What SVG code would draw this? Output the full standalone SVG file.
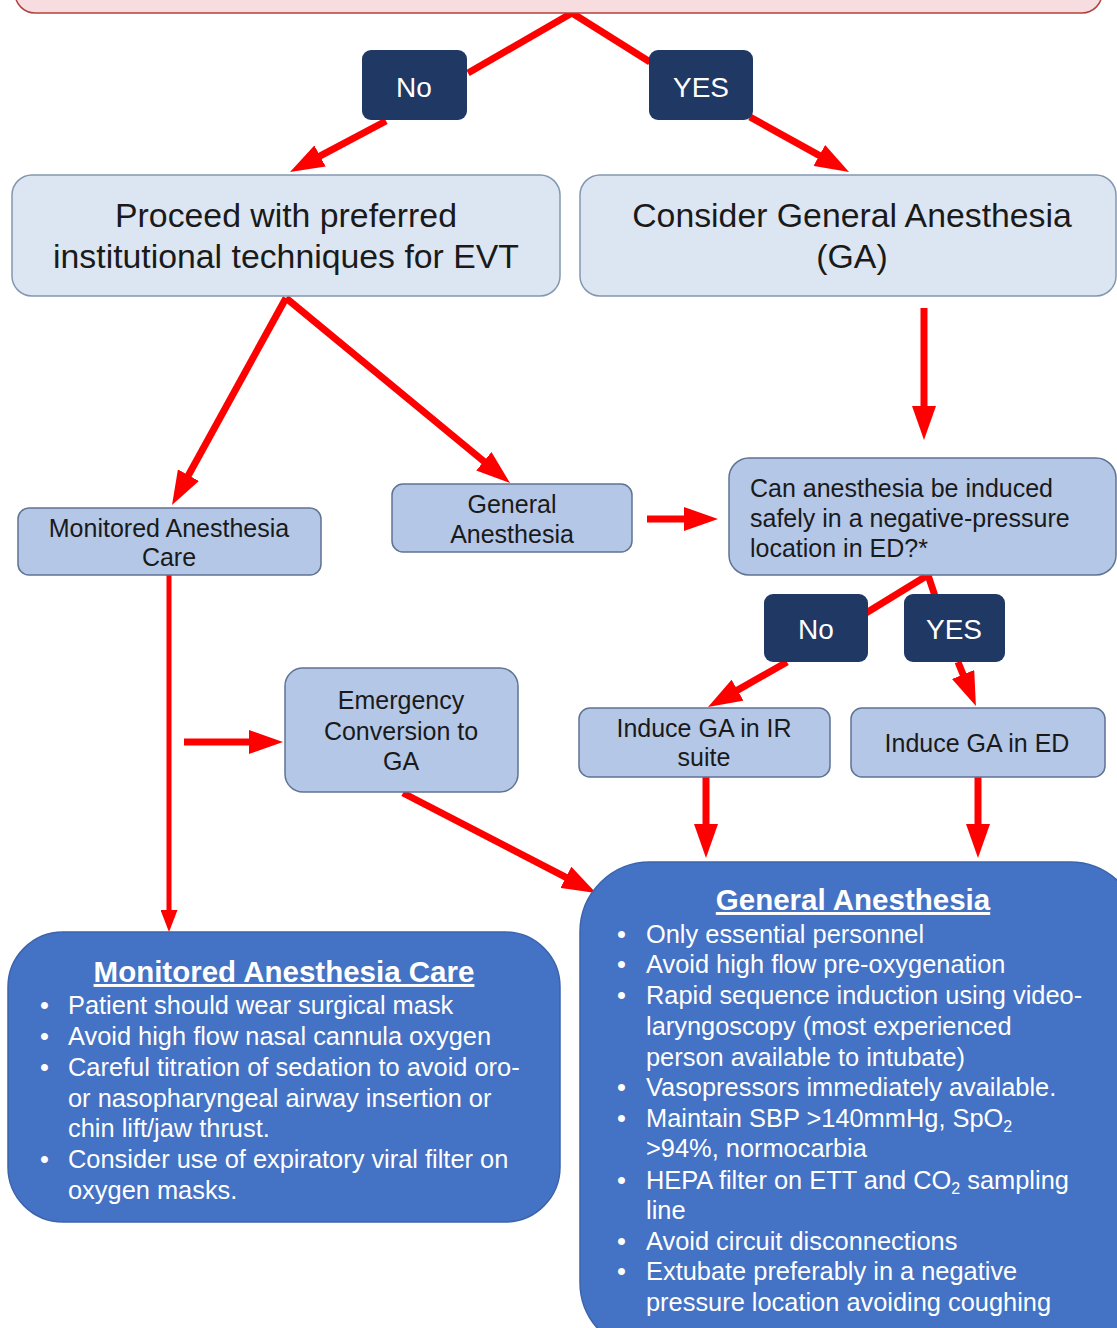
<svg xmlns="http://www.w3.org/2000/svg" width="1117" height="1328" viewBox="0 0 1117 1328">
<defs>
<style>
.t{font-family:"Liberation Sans",Arial,sans-serif;fill:#1a1a1a;}
.big{font-size:33.8px;}
.sm{font-size:25px;}
.lab{font-family:"Liberation Sans",Arial,sans-serif;fill:#ffffff;font-size:28px;}
.w{font-family:"Liberation Sans",Arial,sans-serif;fill:#ffffff;font-size:25.4px;}
.ttl{font-weight:bold;font-size:29.5px;text-decoration:underline;}
.pale{fill:#dce6f2;stroke:#8497b0;stroke-width:1.5;}
.mid{fill:#b4c7e7;stroke:#5f7394;stroke-width:1.5;}
.navy{fill:#1f3864;}
.blue{fill:#4472c4;stroke:#3c64ad;stroke-width:1.5;}
.c{fill:none;stroke:#ff0000;stroke-width:7;}
.a{marker-end:url(#ah);}
</style>
<marker id="ah" markerUnits="userSpaceOnUse" markerWidth="34" markerHeight="24" refX="4" refY="12" orient="auto">
<path d="M0,0 L34,12 L0,24 z" fill="#ff0000"/>
</marker>
<marker id="ahs" markerUnits="userSpaceOnUse" markerWidth="22" markerHeight="17" refX="3" refY="8.5" orient="auto">
<path d="M0,0 L22,8.5 L0,17 z" fill="#ff0000"/>
</marker>
</defs>
<rect width="1117" height="1328" fill="#ffffff"/>

<g id="connectors">
<path class="c" d="M572,13 L468,73"/>
<path class="c" d="M572,13 L650,62"/>
<path class="c a" d="M386,121 L316.5,157.9"/>
<path class="c a" d="M750,117 L822.8,157.4"/>
<path class="c a" d="M286,298 L186.5,478.7"/>
<path class="c a" d="M286,298 L486.9,463.9"/>
<path class="c a" d="M924,308 L924,410"/>
<path class="c a" d="M647,519 L688,519"/>
<path class="c" d="M928,575 L866,613"/>
<path class="c" d="M928,575 L935,596"/>
<path class="c a" d="M787,662 L734.1,692.1"/>
<path class="c a" d="M958,662 L964.6,678.2"/>
<path class="c a" d="M706,777 L706,828"/>
<path class="c a" d="M978,777 L978,828"/>
<path class="c" style="stroke-width:5;marker-end:url(#ahs)" d="M169,575 L169,913"/>
<path class="c a" d="M184,742 L253,742"/>
<path class="c a" d="M403,793 L569.4,879.2"/>
</g>

<g id="top">
<rect x="15" y="-40" width="1087" height="53" rx="20" fill="#f8dde0" stroke="#b0413e" stroke-width="1.5"/>
</g>

<g id="no1">
<rect class="navy" x="362" y="50" width="105" height="70" rx="9"/>
<text class="lab" x="414" y="97" text-anchor="middle">No</text>
</g>
<g id="yes1">
<rect class="navy" x="649" y="50" width="104" height="70" rx="9"/>
<text class="lab" x="701" y="97" text-anchor="middle">YES</text>
</g>

<g id="proceed">
<rect class="pale" x="12" y="175" width="548" height="121" rx="20"/>
<text class="t big" x="286" y="227" text-anchor="middle">Proceed with preferred</text>
<text class="t big" x="286" y="268" text-anchor="middle">institutional techniques for EVT</text>
</g>
<g id="considerGA">
<rect class="pale" x="580" y="175" width="536" height="121" rx="20"/>
<text class="t big" x="852" y="227" text-anchor="middle">Consider General Anesthesia</text>
<text class="t big" x="852" y="268" text-anchor="middle">(GA)</text>
</g>

<g id="mac">
<rect class="mid" x="18" y="508" width="303" height="67" rx="11"/>
<text class="t sm" x="169" y="537" text-anchor="middle">Monitored Anesthesia</text>
<text class="t sm" x="169" y="566" text-anchor="middle">Care</text>
</g>
<g id="ga">
<rect class="mid" x="392" y="484" width="240" height="68" rx="11"/>
<text class="t sm" x="512" y="513" text-anchor="middle">General</text>
<text class="t sm" x="512" y="543" text-anchor="middle">Anesthesia</text>
</g>
<g id="question">
<rect class="mid" x="729" y="458" width="387" height="117" rx="20"/>
<text class="t sm" x="750" y="497">Can anesthesia be induced</text>
<text class="t sm" x="750" y="527">safely in a negative-pressure</text>
<text class="t sm" x="750" y="557">location in ED?*</text>
</g>

<g id="no2">
<rect class="navy" x="764" y="594" width="104" height="68" rx="9"/>
<text class="lab" x="816" y="639" text-anchor="middle">No</text>
</g>
<g id="yes2">
<rect class="navy" x="904" y="594" width="101" height="68" rx="9"/>
<text class="lab" x="954" y="639" text-anchor="middle">YES</text>
</g>

<g id="emergency">
<rect class="mid" x="285" y="668" width="233" height="124" rx="18"/>
<text class="t sm" x="401" y="709" text-anchor="middle">Emergency</text>
<text class="t sm" x="401" y="740" text-anchor="middle">Conversion to</text>
<text class="t sm" x="401" y="770" text-anchor="middle">GA</text>
</g>
<g id="induceIR">
<rect class="mid" x="579" y="708" width="251" height="69" rx="11"/>
<text class="t sm" x="704" y="737" text-anchor="middle">Induce GA in IR</text>
<text class="t sm" x="704" y="766" text-anchor="middle">suite</text>
</g>
<g id="induceED">
<rect class="mid" x="851" y="708" width="254" height="69" rx="11"/>
<text class="t sm" x="977" y="752" text-anchor="middle">Induce GA in ED</text>
</g>

<g id="macBox">
<rect class="blue" x="8" y="932" width="552" height="290" rx="55"/>
<text class="w ttl" x="284" y="982" text-anchor="middle">Monitored Anesthesia Care</text>
<g class="w">
<text x="40" y="1014">•</text><text x="68" y="1014">Patient should wear surgical mask</text>
<text x="40" y="1045">•</text><text x="68" y="1045">Avoid high flow nasal cannula oxygen</text>
<text x="40" y="1076">•</text><text x="68" y="1076">Careful titration of sedation to avoid oro-</text>
<text x="68" y="1107">or nasopharyngeal airway insertion or</text>
<text x="68" y="1137">chin lift/jaw thrust.</text>
<text x="40" y="1168">•</text><text x="68" y="1168">Consider use of expiratory viral filter on</text>
<text x="68" y="1199">oxygen masks.</text>
</g>
</g>

<g id="gaBox">
<rect class="blue" x="580" y="862" width="560" height="490" rx="70"/>
<text class="w ttl" x="853" y="910" text-anchor="middle">General Anesthesia</text>
<g class="w">
<text x="617" y="943">•</text><text x="646" y="943">Only essential personnel</text>
<text x="617" y="973">•</text><text x="646" y="973">Avoid high flow pre-oxygenation</text>
<text x="617" y="1004">•</text><text x="646" y="1004">Rapid sequence induction using video-</text>
<text x="646" y="1035">laryngoscopy (most experienced</text>
<text x="646" y="1066">person available to intubate)</text>
<text x="617" y="1096">•</text><text x="646" y="1096">Vasopressors immediately available.</text>
<text x="617" y="1127">•</text><text x="646" y="1127">Maintain SBP &gt;140mmHg, SpO<tspan font-size="16" dy="5">2</tspan></text>
<text x="646" y="1157">&gt;94%, normocarbia</text>
<text x="617" y="1189">•</text><text x="646" y="1189">HEPA filter on ETT and CO<tspan font-size="16" dy="5">2</tspan><tspan dy="-5"> sampling</tspan></text>
<text x="646" y="1219">line</text>
<text x="617" y="1250">•</text><text x="646" y="1250">Avoid circuit disconnections</text>
<text x="617" y="1280">•</text><text x="646" y="1280">Extubate preferably in a negative</text>
<text x="646" y="1311">pressure location avoiding coughing</text>
</g>
</g>
</svg>
